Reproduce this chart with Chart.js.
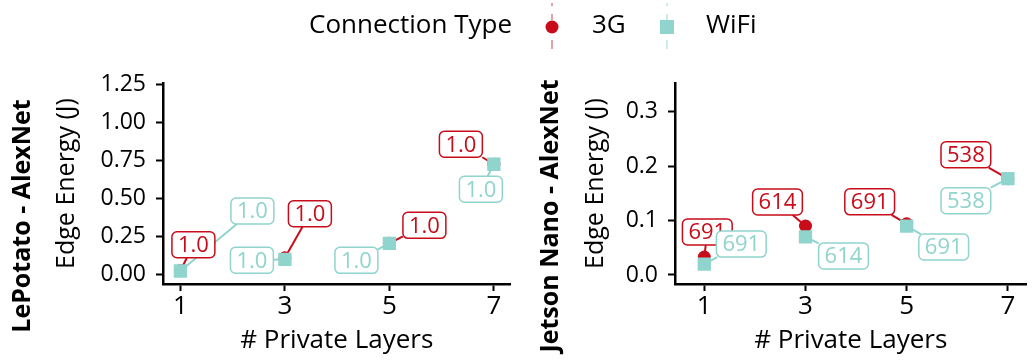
<!DOCTYPE html>
<html>
<head>
<meta charset="utf-8">
<script src="https://cdn.jsdelivr.net/npm/chart.js@4.4.0/dist/chart.umd.min.js"></script>
<style>
  body { margin: 0; background: #fff; width: 1036px; height: 360px; position: relative; overflow: hidden; }
  .panel { position: absolute; top: 0; height: 360px; }
  #legend { position: absolute; left: 0; top: 0; pointer-events: none; }
</style>
</head>
<body>
<div class="panel" style="left:0;width:520px"><canvas id="left" width="520" height="360"></canvas></div>
<div class="panel" style="left:520px;width:516px"><canvas id="right" width="516" height="360"></canvas></div>
<canvas id="legend" width="1036" height="56"></canvas>
<script>
const FONT = '"Open Sans", sans-serif';
const RED = "#c80c1a";
const TEAL = "#8fd4cd";

// # private layers
const layers = [1, 3, 5, 7];

// LePotato - AlexNet, edge energy (J)
const lepotato3G = [0.025, 0.11, 0.205, 0.726];
const lepotatoWiFi = [0.023, 0.10, 0.205, 0.726];
const lepotatoText3G = ["1.0", "1.0", "1.0", "1.0"];
const lepotatoTextWiFi = ["1.0", "1.0", "1.0", "1.0"];
const lepotatoTicks = [0, 0.25, 0.5, 0.75, 1.0, 1.25];

// Jetson Nano - AlexNet, edge energy (J)
const jetson3G = [0.033, 0.090, 0.094, 0.177];
const jetsonWiFi = [0.020, 0.070, 0.090, 0.177];
const jetsonText3G = ["691", "614", "691", "538"];
const jetsonTextWiFi = ["691", "614", "691", "538"];
const jetsonTicks = [0, 0.1, 0.2, 0.3];

// where the repelled labels sit, in px from their point
const lepotatoNudge3G = [[13, -26], [25, -44], [35, -18], [-33, -20]];
const lepotatoNudgeWiFi = [[72, -60], [-33, 1], [-33, 17], [-13, 25]];
const jetsonNudge3G = [[3, -25], [-28, -24], [-37, -22], [-42, -24]];
const jetsonNudgeWiFi = [[37, -20], [38, 19], [37, 21], [-42, 22]];

const repelLabels = {
  id: "repelLabels",
  boxes(chart) {
    const ctx = chart.ctx;
    ctx.save();
    ctx.font = `22px ${FONT}`;
    const out = [];
    chart.data.datasets.forEach((ds, i) => {
      chart.getDatasetMeta(i).data.forEach((pt, j) => {
        const w = ctx.measureText(ds.labelText[j]).width + 12;
        const h = 26;
        const cx = pt.x + ds.labelNudge[j][0];
        const cy = pt.y + ds.labelNudge[j][1];
        out.push({ color: ds.backgroundColor, text: ds.labelText[j], px: pt.x, py: pt.y, cx, cy, w, h });
      });
    });
    ctx.restore();
    return out;
  },
  beforeDatasetsDraw(chart) {
    const ctx = chart.ctx;
    ctx.save();
    ctx.lineWidth = 2;
    this.boxes(chart).forEach((b) => {
      const dx = b.px - b.cx, dy = b.py - b.cy;
      const s = Math.min(dx ? (b.w / 2) / Math.abs(dx) : Infinity, dy ? (b.h / 2) / Math.abs(dy) : Infinity);
      if (s >= 1) return;
      ctx.strokeStyle = b.color;
      ctx.beginPath();
      ctx.moveTo(b.px, b.py);
      ctx.lineTo(b.cx + dx * s, b.cy + dy * s);
      ctx.stroke();
    });
    ctx.restore();
  },
  afterDatasetsDraw(chart) {
    const ctx = chart.ctx;
    ctx.save();
    ctx.font = `22px ${FONT}`;
    ctx.textAlign = "center";
    ctx.textBaseline = "middle";
    this.boxes(chart).forEach((b) => {
      ctx.beginPath();
      ctx.roundRect(b.cx - b.w / 2, b.cy - b.h / 2, b.w, b.h, 5);
      ctx.fillStyle = "#fff";
      ctx.fill();
      ctx.lineWidth = 1.5;
      ctx.strokeStyle = b.color;
      ctx.stroke();
      ctx.fillStyle = b.color;
      ctx.fillText(b.text, b.cx, b.cy + 1);
    });
    ctx.restore();
  },
};

const panelTitle = {
  id: "panelTitle",
  afterDraw(chart, args, o) {
    const ctx = chart.ctx;
    ctx.save();
    ctx.translate(o.x, o.y);
    ctx.rotate(-Math.PI / 2);
    ctx.font = `bold 25px ${FONT}`;
    ctx.fillStyle = "#000";
    ctx.textAlign = "center";
    ctx.textBaseline = "middle";
    ctx.fillText(o.text, 0, 0);
    ctx.restore();
  },
};

function makePanel(id, cfg) {
  const pts = (vals) => layers.map((x, i) => ({ x, y: vals[i] }));
  return new Chart(document.getElementById(id), {
    type: "scatter",
    data: {
      datasets: [
        {
          label: "3G", data: pts(cfg.g3), order: 1,
          backgroundColor: RED, borderColor: RED,
          pointStyle: "circle", pointRadius: 6.5, pointBorderWidth: 0,
          labelText: cfg.text3G, labelNudge: cfg.nudge3G,
        },
        {
          label: "WiFi", data: pts(cfg.wifi), order: 0,
          backgroundColor: TEAL, borderColor: TEAL,
          pointStyle: "rect", pointRadius: 9.4, pointBorderWidth: 0,
          labelText: cfg.textWiFi, labelNudge: cfg.nudgeWiFi,
        },
      ],
    },
    options: {
      responsive: false,
      animation: false,
      events: [],
      layout: { padding: { top: 83, right: cfg.padRight, left: 0, bottom: 0 } },
      plugins: {
        legend: { display: false },
        tooltip: { enabled: false },
        panelTitle: { text: cfg.title, x: cfg.titleX, y: 216 },
      },
      scales: {
        x: {
          type: "linear", min: cfg.xMin, max: cfg.xMax,
          afterFit: (s) => { s.height = 76; },
          afterBuildTicks: (s) => { s.ticks = layers.map((v) => ({ value: v })); },
          grid: { drawOnChartArea: false, tickLength: 7, tickWidth: 2, tickColor: "#000" },
          border: { color: "#000", width: 2.5 },
          ticks: { color: "#000", padding: 0, font: { family: FONT, size: 26 } },
          title: { display: true, text: "# Private Layers", color: "#000",
                   font: { family: FONT, size: 26 }, padding: { top: 0, bottom: 4 } },
        },
        y: {
          type: "linear", min: cfg.yMin, max: cfg.yMax,
          afterFit: (s) => { s.width = cfg.axisLeft; },
          afterBuildTicks: (s) => { s.ticks = cfg.ticks.map((v) => ({ value: v })); },
          grid: { drawOnChartArea: false, tickLength: 7, tickWidth: 2, tickColor: "#000" },
          border: { color: "#000", width: 2.5 },
          ticks: { color: "#000", padding: 10, font: { family: FONT, size: 23 },
                   callback: (v) => Number(v).toFixed(cfg.digits) },
          title: { display: true, text: "Edge Energy (J)", color: "#000",
                   font: { family: FONT, size: 25 }, padding: { top: cfg.yTitlePad, bottom: 0 } },
        },
      },
    },
    plugins: [repelLabels, panelTitle],
  });
}

makePanel("left", {
  g3: lepotato3G, wifi: lepotatoWiFi,
  text3G: lepotatoText3G, textWiFi: lepotatoTextWiFi,
  nudge3G: lepotatoNudge3G, nudgeWiFi: lepotatoNudgeWiFi,
  ticks: lepotatoTicks, digits: 2,
  xMin: 0.667, xMax: 7.32, yMin: -0.0626, yMax: 1.261,
  axisLeft: 163, padRight: 3, yTitlePad: 52,
  title: "LePotato - AlexNet", titleX: 23,
});

makePanel("right", {
  g3: jetson3G, wifi: jetsonWiFi,
  text3G: jetsonText3G, textWiFi: jetsonTextWiFi,
  nudge3G: jetsonNudge3G, nudgeWiFi: jetsonNudgeWiFi,
  ticks: jetsonTicks, digits: 1,
  xMin: 0.421, xMax: 7.37, yMin: -0.0166, yMax: 0.353,
  axisLeft: 155, padRight: 1, yTitlePad: 61,
  title: "Jetson Nano - AlexNet", titleX: 31,
});

// shared legend across the top
(function drawLegend() {
  const ctx = document.getElementById("legend").getContext("2d");
  ctx.font = `26px ${FONT}`;
  ctx.textBaseline = "middle";
  ctx.fillStyle = "#000";
  ctx.fillText("Connection Type", 309, 26);
  ctx.fillText("3G", 592, 26);
  ctx.fillText("WiFi", 706, 26);

  ctx.lineWidth = 2;
  ctx.strokeStyle = "rgba(200,12,26,0.4)";
  [[3, 6], [14, 20], [40, 49]].forEach(([a, b]) => {
    ctx.beginPath(); ctx.moveTo(552, a); ctx.lineTo(552, b); ctx.stroke();
  });
  ctx.strokeStyle = "rgba(143,212,205,0.45)";
  [[3, 6], [14, 20], [40, 49]].forEach(([a, b]) => {
    ctx.beginPath(); ctx.moveTo(667, a); ctx.lineTo(667, b); ctx.stroke();
  });

  ctx.fillStyle = RED;
  ctx.beginPath(); ctx.arc(552, 27, 6.5, 0, Math.PI * 2); ctx.fill();
  ctx.fillStyle = TEAL;
  ctx.fillRect(660, 20, 14, 14);
})();
</script>
</body>
</html>
